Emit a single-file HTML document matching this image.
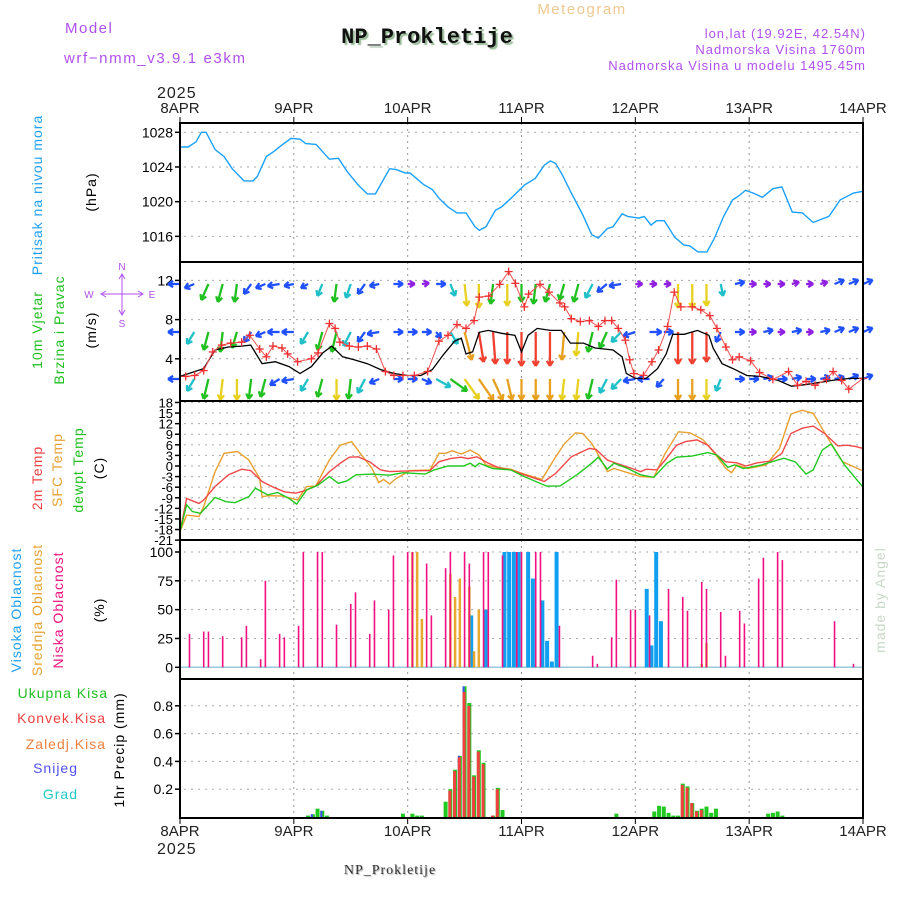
<!DOCTYPE html>
<html><head><meta charset="utf-8"><style>
html,body{margin:0;padding:0;background:#fff;}
svg{display:block;font-family:"Liberation Sans",sans-serif;}
</style></head><body>
<svg id="c" width="900" height="900" viewBox="0 0 900 900" xmlns="http://www.w3.org/2000/svg">
<g>
<text x="65" y="33" font-size="15" fill="#b050f0" letter-spacing="1.5">Model</text>
<text x="64" y="63" font-size="15" fill="#b050f0" letter-spacing="1.6">wrf−nmm_v3.9.1 e3km</text>
<text x="427" y="43" font-size="22" font-weight="bold" text-anchor="middle" font-family="Liberation Mono, monospace" fill="#111" style="text-shadow:2px 2px 1px #9b9">NP_Prokletije</text>
<text x="582" y="14" font-size="15" text-anchor="middle" fill="#f0c890" letter-spacing="1.5">Meteogram</text>
<text x="866" y="38" font-size="13" text-anchor="end" fill="#b050f0" letter-spacing="1">lon,lat (19.92E, 42.54N)</text>
<text x="866" y="54" font-size="13" text-anchor="end" fill="#b050f0" letter-spacing="1">Nadmorska Visina 1760m</text>
<text x="866" y="70" font-size="13" text-anchor="end" fill="#b050f0" letter-spacing="1">Nadmorska Visina u modelu 1495.45m</text>
</g>
<g id="grid"></g>
<g id="marks"></g>
<g id="frames"></g>
<g id="labels" font-size="14" letter-spacing="1">
<text transform="translate(42,195) rotate(-90)" text-anchor="middle" fill="#20a0f0">Pritisak na nivou mora</text>
<text transform="translate(96,192) rotate(-90)" text-anchor="middle" fill="#000">(hPa)</text>
<text transform="translate(42,330) rotate(-90)" text-anchor="middle" fill="#20c020">10m Vjetar</text>
<text transform="translate(64,330) rotate(-90)" text-anchor="middle" fill="#20c020">Brzina i Pravac</text>
<text transform="translate(96,330) rotate(-90)" text-anchor="middle" fill="#000">(m/s)</text>
<g fill="#b050f0" font-size="10" letter-spacing="0" stroke-width="1">
<text x="122" y="270" text-anchor="middle">N</text>
<text x="122" y="327" text-anchor="middle">S</text>
<text x="89" y="298" text-anchor="middle">W</text>
<text x="152" y="298" text-anchor="middle">E</text>
<g stroke="#b050f0" fill="none">
<line x1="122" y1="274" x2="122" y2="315"/>
<line x1="102" y1="294" x2="142" y2="294"/>
<polyline points="119,279 122,274 125,279"/>
<polyline points="119,310 122,315 125,310"/>
<polyline points="106,291 101,294 106,297"/>
<polyline points="138,291 143,294 138,297"/>
</g>
</g>
<text transform="translate(42,478) rotate(-90)" text-anchor="middle" fill="#f04040">2m Temp</text>
<text transform="translate(62,470) rotate(-90)" text-anchor="middle" fill="#e8a030">SFC Temp</text>
<text transform="translate(83,470) rotate(-90)" text-anchor="middle" fill="#20c020">dewpt Temp</text>
<text transform="translate(104,468) rotate(-90)" text-anchor="middle" fill="#000">(C)</text>
<text transform="translate(21,610) rotate(-90)" text-anchor="middle" fill="#20a0f0">Visoka Oblacnost</text>
<text transform="translate(42,610) rotate(-90)" text-anchor="middle" fill="#e8a030">Srednja Oblacnost</text>
<text transform="translate(63,610) rotate(-90)" text-anchor="middle" fill="#f0107f">Niska Oblacnost</text>
<text transform="translate(104,610) rotate(-90)" text-anchor="middle" fill="#000">(%)</text>
<text transform="translate(885,600) rotate(-90)" text-anchor="middle" fill="#c8d8c8">made by Angel</text>
<text x="108" y="698" text-anchor="end" fill="#20c020">Ukupna Kisa</text>
<text x="106" y="723" text-anchor="end" fill="#f04040">Konvek.Kisa</text>
<text x="106" y="749" text-anchor="end" fill="#f08040">Zaledj.Kisa</text>
<text x="78" y="773" text-anchor="end" fill="#5050f0">Snijeg</text>
<text x="78" y="799" text-anchor="end" fill="#20c8c8">Grad</text>
<text transform="translate(124,750) rotate(-90)" text-anchor="middle" fill="#000">1hr Precip (mm)</text>
<text x="157" y="98" font-size="16" fill="#222">2025</text>
<text x="157" y="854" font-size="16" fill="#222">2025</text>
<text x="390" y="874" font-size="14" text-anchor="middle" font-family="Liberation Serif, serif" fill="#333" style="text-shadow:1px 1px 1px #aaa">NP_Prokletije</text>
</g>
</svg>
<script>
const dayLabels=["8APR","9APR","10APR","11APR","12APR","13APR","14APR"];
const pHours=[0,1.7,3.4,4.5,5.5,7.4,9.3,11,13.5,15.4,16.3,18.2,19.8,21.4,23.4,25.3,26.5,28.7,31.5,33.4,35.2,37.6,39.5,41.2,44.2,45.6,47.5,48.5,51.3,53.2,54.6,56.5,58.4,60.3,62.2,63.1,64.5,66.5,67.8,69.8,72.6,74.9,76.8,78.1,79.2,80.6,82.5,84.9,86.8,88.2,90.1,91.3,93.2,94.4,96.7,97.9,99.3,100.5,102.1,104.3,106.2,107.5,109.2,111.1,112.7,114.6,116.5,117.9,119.2,120.8,122.8,125,126.9,129.1,131.2,133.5,134.9,136.8,139.2,142,144];
const pVals=[1026.3,1026.3,1026.9,1028,1028,1026,1025.2,1023.8,1022.4,1022.4,1022.9,1025.2,1025.8,1026.5,1027.3,1027.2,1026.7,1026.6,1024.9,1025,1023.5,1021.9,1020.9,1020.9,1023.8,1023.7,1023.3,1023.3,1022,1021.4,1020.4,1019.4,1018.7,1018.7,1017.1,1016.7,1017.1,1019,1019.4,1020.4,1021.9,1022.7,1024.2,1024.7,1024.4,1023.1,1021,1018.5,1016.2,1015.8,1016.9,1017.1,1018.6,1018.3,1018.1,1018.3,1017.3,1017.8,1017.8,1015.9,1015,1014.9,1014.2,1014.2,1015.8,1018.3,1020.2,1020.7,1021.3,1021,1020.5,1021.5,1021.7,1018.8,1018.7,1017.6,1017.9,1018.3,1020.2,1021,1021.2];
const pTicks=[1016,1020,1024,1028];
const wsHours=[0,5,7.4,10.2,13,14.9,17.3,20.1,23,25.3,27.7,30.1,32,34.3,36.7,39.5,42.3,45.1,48,50.8,53.2,55.5,57.9,59.3,60.3,61.7,63.1,65,67.8,70.6,72,73.4,75.3,78.1,80.4,82.3,85.1,87.5,89.4,91.3,93.2,94.1,96,98.3,100.7,102.5,103.9,106.3,109.1,111.5,112.4,114.3,116.6,119.5,122.3,126.1,128.9,130.8,133.7,137.5,141.2,144];
const wsVals=[2.2,3,4.9,5.2,5.3,5.4,3.5,3.7,3.2,2.5,3.2,4.6,5.3,4.2,3.9,3.5,2.9,2.5,2.3,2.3,2.9,4.4,5.8,6.1,4.5,4.7,6.7,6.9,6.6,6.4,4.7,6.4,7.1,6.9,6.9,5.6,5.6,5.1,5,4.9,4.2,2.5,2,2,3,4.5,6.5,6.5,6.9,6.4,5.1,3.5,3,2.3,2.2,1.8,1.2,1.3,1.5,1.8,2,2];
const gustHours=[1.2,3.1,5,6.9,8.8,10.7,13,14.7,16.8,18.2,19.6,21.5,22.7,24.8,27.7,29.1,31.5,32.7,33.7,35.7,37.6,39.5,41.4,43.3,45.1,47,49.4,52.2,54.6,56.5,58.4,60.3,62,63.1,65.1,67.4,69.3,70.7,72.6,73.5,75.9,77.8,80.1,81.1,82.5,84.4,86.3,88.2,89.6,91,92.4,93.9,94.8,95.7,97.7,99.5,100.9,102.8,104.2,105.6,108,109.8,111.7,113.2,115.1,116.5,117.9,120.3,122.2,125,128.3,130.2,132,133.9,136.3,137.7,139.5,141,144];
const gustVals=[2.2,2.3,2.8,4.7,5.4,5.6,5.7,6.4,5,4.2,5.3,5.1,4.5,3.7,4,4.6,7.6,7.1,5.7,5.3,5.2,5.3,5,2.7,2.3,2.3,2.3,2.7,5.8,6.4,7.5,7.1,7.9,10.3,10.4,11.6,12.9,11.7,9.3,10.6,11.6,10.8,9.7,9.3,8.1,7.8,7.9,7.3,7.9,7.9,7.1,5.9,3.9,2.5,2.3,3.7,4.9,7.3,10.8,9.3,9.3,9,8.4,7.1,5.2,3.9,4.2,3.8,2.6,1.9,2.7,1.3,1.7,1.3,1.9,2.7,1.8,0.9,2];
const wTicks=[4,8,12];
const wU1=[-5,-4,-3,-2,-1,-3,-4,-5,-4,-3,-2,-1,-2,-3,-4,4,3,3,4,2,1,0,-1,0,0,-1,-2,-2,-2,-3,-4,-5,3,3,3,0,0,0,1,4,3,3,3,3,3,3,4,4,4];
const wV1=[0,-2,-8,-9,-9,-5,-2,-1,-1,-2,-6,-9,-7,-5,-1,0,0,0.5,0,-6,-11,-12,-10,-11,-9,-10,-9,-8,-9,-7,-4,-1,0,0,0,-12,-12,-11,-6,1,0,0,0,1,0,1,2,2,2];
const wU2=[-5,-3,-2,-1,-2,-3,-4,-5,-5,-3,-2,-2,-3,-3,-5,4,4,4,2,3,3,2,1,0,0,0,0,-1,-1,-2,-3,-4,-5,5,4,0,0,0,-2,4,3,4,3,4,3,4,4,4,4];
const wV2=[0,-6,-9,-10,-8,-5,-2,0,0,-6,-9,-10,-7,-5,-1,0,0,0,-3,-6,-14,-15,-16,-16,-17,-17,-17,-14,-12,-10,-8,-5,-2,0,0,-16,-16,-15,-5,0,0,1,0,1,0,1,2,2,2];
const wU3=[-5,-3,-2,-1,0,-1,-2,-4,-5,-3,-2,0,-1,-3,-4,4,4,4,6,7,6,6,4,2,0,0,0,-1,-1,-2,-3,-4,-5,-5,-3,0,0,0,-2,4,4,4,4,4,4,4,4,4,4];
const wV3=[0,-6,-10,-11,-11,-10,-9,-3,-1,-6,-9,-11,-10,-7,-2,0,0,-2,-4,-6,-10,-12,-14,-14,-14,-14,-14,-12,-12,-10,-7,-5,-1,0,-4,-13,-13,-12,-6,0,0,1,0,1,0,1,1,2,2];
const t2Hours=[0,1.4,4,5,7.4,10.2,13,14.9,17.3,19.7,22,24.4,26.3,28.6,31.5,33.8,35.7,37.6,40,42.3,44.2,48,52.7,54.6,57,59.3,60.7,62.6,65,67.4,69.7,72.6,74.9,76.8,79.2,82.5,86.3,87.7,90.1,92.4,95.3,97.1,98.3,100.5,102.3,104.7,106.6,109,111.3,113.2,115.1,117.4,119.3,121.7,124.5,126.9,128.8,131.2,133.5,135.9,138.7,140.6,142.5,144];
const t2Vals=[-18.6,-9.2,-10.6,-9.6,-5.8,-2.5,-0.9,-1.3,-4.4,-6,-7.3,-7.7,-7,-5.7,-1.6,0.8,2.5,2.6,1.2,-1.1,-1.6,-1.4,-1.3,1.2,2.1,2.5,2.1,2.6,0.8,-0.6,-1.1,-2.5,-3.5,-4.4,-2.1,2.6,5,4.7,1.7,0.6,-0.7,-1.6,-0.9,-1.1,1.7,5.9,6.9,7.4,5.9,3.1,1.2,0.9,0,0.9,1.4,3.6,9.2,10.7,11.3,9.2,5.7,5.9,5.5,5];
const sfcHours=[0,1.4,4,5,7.4,9.3,12.1,14.5,16.8,17.3,18.7,21.5,24.8,26.7,28.6,31.5,33.8,36.2,38,40.5,41.9,42.9,44.2,45.6,48.5,52.7,54.6,56,57.4,59.3,61.2,63.1,64.5,65.9,69.7,72.6,76.3,79.2,81.1,83.4,84.9,86.8,88.6,90.1,91.5,94.4,97.1,99.9,102.3,105.1,107.5,110.3,112.7,115.1,116.3,117.4,119.8,123.6,126.4,128.8,131.2,133.5,136.4,139.7,144];
const sfcVals=[-18.6,-13.9,-14.3,-11.5,-1.6,3.6,4.1,1.7,-3.5,-8.7,-8.4,-8.5,-9.6,-5.8,-5.7,1.7,5.9,6.9,3.6,-0.7,-4.7,-3.8,-5.1,-3.5,-1.3,-1.1,3.6,3.6,4.3,3.4,4.5,3.1,0.3,-0.2,-0.9,-2.3,-3.8,2.6,6.4,9.4,9.2,6.4,2.2,-1.6,-0.7,-1.9,-3,-3.2,3.6,9.7,9.4,7.4,3.6,-0.7,-1.9,0.3,-0.7,0.3,5,14.7,15.8,14.9,8.3,1.2,-1.4];
const tdHours=[0,1.4,2.6,4.3,7.4,9.7,11.6,14.5,15.9,18.5,20.6,23,24.6,26.7,29.1,31.5,33.4,35.2,37.1,40.5,44.2,47,51.7,53.6,56.5,59.8,61.2,62.2,63.1,65.9,69.7,72.6,77.3,80.1,83.9,86.8,88.2,90.1,91.5,94.4,97.1,99.9,102.7,104.7,107.9,111.3,113.2,115.5,116.9,118.8,122.6,127.3,129.7,132,133.5,135.4,137.3,140.1,144];
const tdVals=[-18.6,-11,-12.9,-13.4,-8.9,-10.1,-10.4,-8.7,-6.3,-8.2,-7.5,-9.2,-10.8,-6.8,-5.4,-3,-4.9,-4.2,-2.5,-2.3,-2.6,-1.9,-2.3,-1.1,0,0,0.8,-0.2,0.8,-0.7,-1.1,-3,-5.7,-5.7,-2.3,0.8,2.5,-0.9,0.8,-0.7,-2.5,-3.2,0.8,2.5,2.8,3.8,3.1,-0.4,0.3,-0.7,0.3,2.2,1.2,-2.3,-1.1,4.5,6.2,0.3,-6];
const tTicks=[-21,-18,-15,-12,-9,-6,-3,0,3,6,9,12,15,18];
const lowHours=[2,5,6,9,13,14,17,18,21,22,25,26,29,30,33,36,37,40,41,44,45,48,49,52,53,56,57,60,61,64,65,68,71,72,75,76,80,87,88,91,92,95,96,99,103,106,107,110,111,114,115,118,119,122,123,126,127,138,142];
const lowVals=[29,31,31,27,26,36,7,75,29,26,36,100,100,100,37,55,65,29,58,50,97,100,100,90,45,86,100,100,90,100,100,97,100,100,100,100,36,10,3,26,76,50,50,45,68,61,49,74,68,48,10,49,38,77,95,100,93,40,3];
const midHours=[49,50,51,57,58,59,61,62,63,110,111];
const midVals=[100,100,42,81,61,77,70,14,50,3,21];
const highHours=[61.4,64.4,68.4,69.4,70.4,71.4,73.4,74.4,76.4,77.4,78.4,79.4,98.4,99.4,100.4,101.4];
const highVals=[45,50,100,100,100,100,100,77,58,23,5,100,68,19,100,40];
const cTicks=[0,25,50,75,100];
const rainHours=[27,28,29,30,31,47,49,50,51,56,57,58,59,60,61,62,63,64,66,67,68,92,100,101,102,103,104,105,106,107,108,109,110,111,112,113,124,125,126,127];
const rainVals=[0.01,0.02,0.06,0.045,0.01,0.024,0.024,0.01,0.01,0.11,0.2,0.34,0.44,0.94,0.82,0.3,0.48,0.39,0.01,0.21,0.05,0.024,0.04,0.08,0.075,0.03,0.01,0.01,0.24,0.22,0.1,0.045,0.06,0.075,0.03,0.06,0.024,0.03,0.04,0.01];
const convHours=[57,58,59,60,61,62,63,64,66,67,106,107,108,109,110];
const convVals=[0.19,0.33,0.43,0.9,0.8,0.29,0.47,0.38,0.01,0.2,0.23,0.21,0.1,0.04,0.05];
const snowHours=[28,30,59,60];
const snowVals=[0.02,0.045,0.44,0.94];
const rTicks=[0.2,0.4,0.6,0.8];

const NS="http://www.w3.org/2000/svg";
const X0=180,X1=863,DAY=(X1-X0)/6;
const X=h=>X0+h*DAY/24;
const yP=v=>132.3+(1028-v)*8.67;
const yW=v=>398-v*9.8;
const yT=v=>466-v*3.53;
const yC=v=>667.3-v*1.153;
const yR=v=>817-v*139;
const panels=[[123,262],[262,401],[401,540],[540,679],[679,818]];
function mk(tag,attrs,parent){const e=document.createElementNS(NS,tag);for(const k in attrs)e.setAttribute(k,attrs[k]);(parent||document.getElementById('marks')).appendChild(e);return e;}
const grid=document.getElementById('grid'),frames=document.getElementById('frames'),marks=document.getElementById('marks');
panels.forEach((p,pi)=>{for(let d=1;d<6;d++){const l=mk('line',{x1:X(d*24),x2:X(d*24),y1:p[0],y2:p[1],stroke:'#999','stroke-dasharray':'2,4'},grid);

}});
function hgrid(ticks,yf,labelFmt,fs){ticks.forEach(t=>{const y=yf(t);const l=mk('line',{x1:X0+4,x2:X1,y1:y,y2:y,stroke:'#aaa','stroke-dasharray':'2,5'},grid);


mk('line',{x1:X0-5,x2:X0,y1:y,y2:y,stroke:'#000','stroke-width':1.5},grid);
const tx=mk('text',{x:X0-7,y:y+5,'text-anchor':'end','font-size':fs||14,fill:'#000'},grid);tx.textContent=labelFmt(t);

});}
hgrid(pTicks,yP,t=>t);
hgrid(wTicks,yW,t=>t);
hgrid(tTicks,yT,t=>t,13);
hgrid(cTicks,yC,t=>t);
hgrid(rTicks,yR,t=>t.toFixed(1));
panels.forEach(p=>{const r=mk('rect',{x:X0,y:p[0],width:X1-X0,height:p[1]-p[0],fill:'none',stroke:'#000','stroke-width':2},frames);

});
dayLabels.forEach((d,i)=>{const x=X(i*24);
const t1=mk('text',{x:x,y:113,'text-anchor':'middle','font-size':15,fill:'#222'},frames);t1.textContent=d;


const t2=mk('text',{x:x,y:836,'text-anchor':'middle','font-size':15,fill:'#222'},frames);t2.textContent=d;


mk('line',{x1:x,x2:x,y1:117,y2:123,stroke:'#000'},frames);mk('line',{x1:x,x2:x,y1:818,y2:824,stroke:'#000'},frames);});
function line(hs,vs,yf,color,name,w){const pts=hs.map((h,i)=>X(h).toFixed(1)+','+yf(vs[i]).toFixed(1)).join(' ');
const pl=mk('polyline',{points:pts,fill:'none',stroke:color,'stroke-width':w||1.3});

}
line(pHours,pVals,yP,'#1aa0ff','pressure-line',1.4);
function wcolor(s){return s<3.6?'#9020e0':s<6?'#2050ff':s<8?'#20c0c8':s<10.5?'#20c020':s<12.5?'#e8d020':s<15?'#e8a020':'#f04030';}
[[wU1,wV1,284],[wU2,wV2,332],[wU3,wV3,379]].forEach(([U,V,base],li)=>{U.forEach((u,i)=>{const v=V[i];const h=i*3;const x=X(h);const s=Math.hypot(u,v);
const x2=x+u*2.4,y2=Math.min(base-v*2,400);const c=wcolor(s);
const g=mk('g',{stroke:c,'stroke-width':2.3,fill:'none'});


mk('line',{x1:x,y1:base,x2:x2,y2:y2},g);
const a=Math.atan2(y2-base,x2-x);
[0.55,-0.55].forEach(da=>mk('line',{x1:x2,y1:y2,x2:x2-6*Math.cos(a+da),y2:y2-6*Math.sin(a+da)},g));});});
line(wsHours,wsVals,yW,'#000','wind-speed-line',1.3);
line(gustHours,gustVals,yW,'#f05050','gust-line',1);
gustHours.forEach((h,i)=>{const x=X(h),y=yW(gustVals[i]);const g=mk('g',{stroke:'#f03030','stroke-width':1.3});


mk('line',{x1:x-4,x2:x+4,y1:y,y2:y},g);mk('line',{x1:x,x2:x,y1:y-4,y2:y+4},g);});
line(sfcHours,sfcVals,yT,'#e8a030','sfc-temp-line',1.4);
line(t2Hours,t2Vals,yT,'#f04848','temp-2m-line',1.4);
line(tdHours,tdVals,yT,'#20c820','dewpoint-line',1.4);
mk('line',{x1:X0,x2:X1,y1:yC(0),y2:yC(0),stroke:'#9cc8d8','stroke-width':1.5});
function bars(hs,vs,yf,color,w,name,off){hs.forEach((h,i)=>{const y=yf(vs[i]);const r=mk('rect',{x:X(h)-w/2+(off||0),y:y,width:w,height:Math.max(0,yf(0)-y),fill:color});

});}
bars(highHours,highVals,yC,'#10a0f0',4,'high-cloud-bar');
bars(midHours,midVals,yC,'#e8a830',2.5,'mid-cloud-bar');
bars(lowHours,lowVals,yC,'#f0107f',1.6,'low-cloud-bar');
bars(rainHours,rainVals,yR,'#20c820',4,'total-rain-bar');
bars(snowHours,snowVals,yR,'#4050f0',2,'snow-bar',-1);
bars(convHours,convVals,yR,'#f04040',3,'convective-rain-bar',-0.5);
</script>
</body></html>
